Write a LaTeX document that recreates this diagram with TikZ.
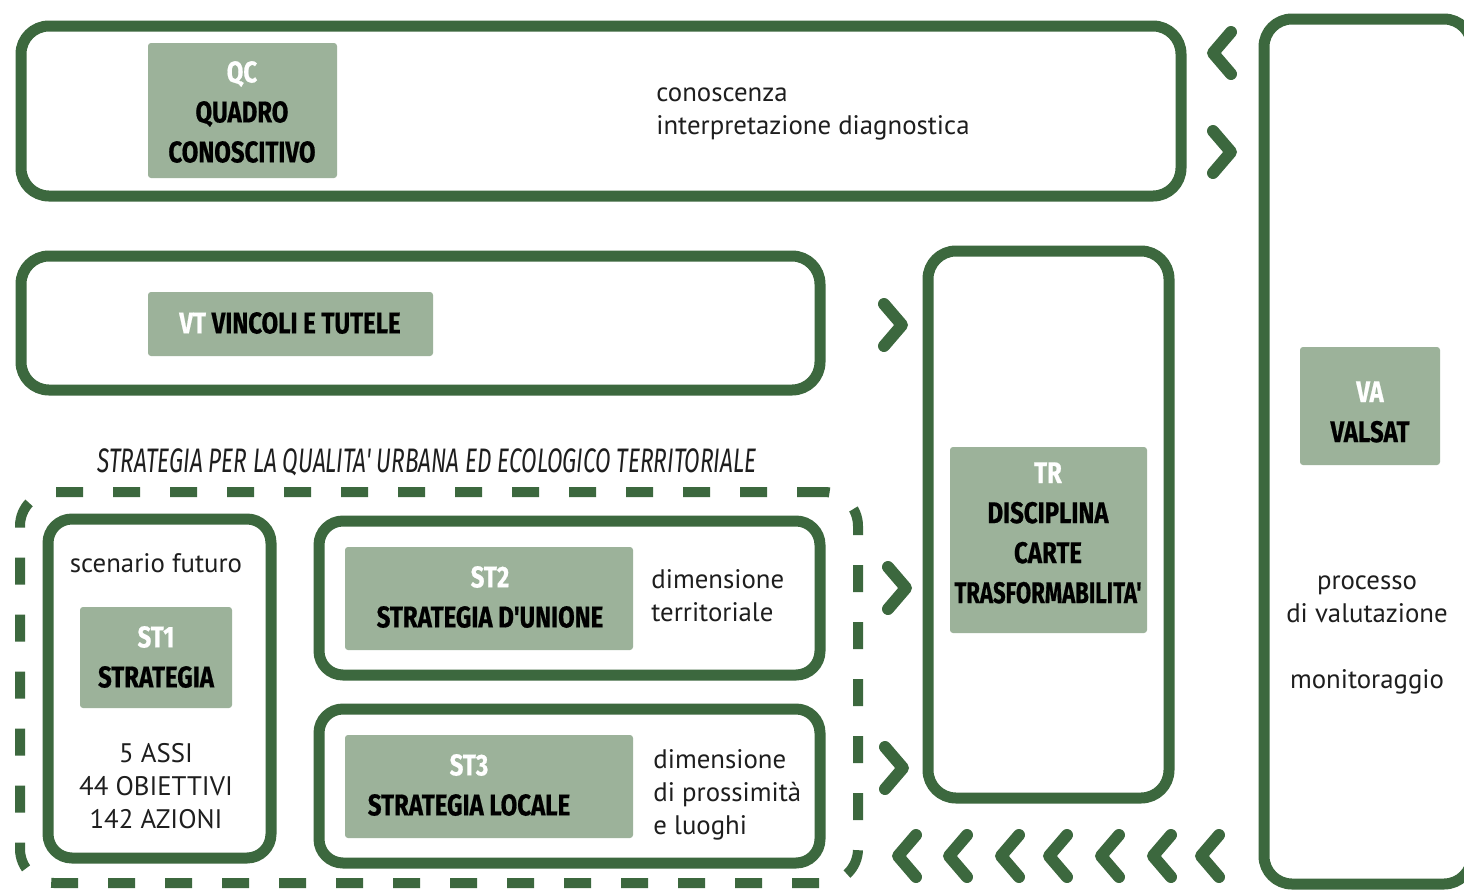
\documentclass[tikz,border=0pt]{standalone}
\usepackage{fontspec}
\setmainfont{PT Sans}
\newfontfamily\cond[FakeStretch=0.8,BoldFeatures={FakeBold=0.6}]{Fira Sans}
\newfontfamily\condit[FakeStretch=0.665]{Fira Sans}
\usetikzlibrary{fit}
\definecolor{dkg}{RGB}{60,104,62}
\definecolor{ltg}{RGB}{156,178,154}
\definecolor{txt}{RGB}{30,30,30}
\tikzset{
 gbox/.style={draw=dkg,line width=5.5pt,rounded corners=14pt,inner sep=0pt},
 dbox/.style={draw=dkg,line width=5pt,rounded corners=17pt,inner sep=0pt,dash pattern=on 13.5pt off 15pt},
 lab/.style={fill=ltg,inner sep=0pt,rounded corners=1.5pt},
 hd/.style={font=\cond\bfseries\fontsize{15}{20}\selectfont,text=black,align=center,inner sep=0pt},
 body/.style={font=\fontsize{13.4}{16.5}\selectfont,text=txt,inner sep=0pt},
 chev/.style={draw=dkg,line width=6pt,line cap=round,line join=round},
 chl/.pic={\draw[chev] (9,-21) -- (-9,0) -- (9,21);},
 chr/.pic={\draw[chev] (-9,-21) -- (9,0) -- (-9,21);}
}
\begin{document}
\begin{tikzpicture}[x=0.5pt,y=-0.5pt]
\useasboundingbox (0,0) rectangle (1464,890);
\clip (0,0) rectangle (1464,890);
\fill[white] (0,0) rectangle (1464,890);
% QC
\node[gbox,fit={(21,26)(1181,196)}] (qc) {};
\node[lab,fit={(148,43)(337,178)}] (qcl) {};
\node[hd] (qct) at (242,112) {\textcolor{white}{QC}\\QUADRO\\CONOSCITIVO};
\node[body,anchor=west,align=left] (qcd) at (656,114) {conoscenza\\interpretazione diagnostica};
% VA
\node[gbox,fit={(1264,19)(1472,884)}] (va) {};
\node[lab,fit={(1300,347)(1440,465)}] (val) {};
\node[hd] (vat) at (1370,412) {\textcolor{white}{VA}\\VALSAT};
\node[body,align=center] (vad) at (1367,635) {processo\\di valutazione\\[16.5pt]monitoraggio};
% VT
\node[gbox,fit={(21,256)(820,390)}] (vt) {};
\node[lab,fit={(148,292)(433,356)}] (vtl) {};
\node[hd] (vtt) at (290,323) {\textcolor{white}{VT} VINCOLI E TUTELE};
% TR
\node[gbox,fit={(928,251)(1169,798)}] (tr) {};
\node[lab,fit={(950,447)(1147,633)}] (trl) {};
\node[hd] (trt) at (1048,533) {\textcolor{white}{TR}\\DISCIPLINA\\CARTE\\\scalebox{0.92}[1]{TRASFORMABILITA'}};
% heading
\node[font=\condit\itshape\fontsize{17}{20}\selectfont,text=txt,inner sep=0pt] (hdg) at (427,462) {STRATEGIA PER LA QUALITA' URBANA ED ECOLOGICO TERRITORIALE};
% dashed group
\node[dbox,fit={(20,492)(858,883)}] (sq) {};
% ST1
\node[gbox,rounded corners=12pt,fit={(48,519)(271,858)}] (st1) {};
\node[body] (st1a) at (156,563) {scenario futuro};
\node[lab,fit={(80,607)(232,708)}] (st1l) {};
\node[hd] (st1t) at (156,657) {\textcolor{white}{ST1}\\STRATEGIA};
\node[body,align=center] (st1b) at (156,786) {5 ASSI\\44 OBIETTIVI\\142 AZIONI};
% ST2
\node[gbox,rounded corners=12pt,fit={(319,521)(820,675)}] (st2) {};
\node[lab,fit={(345,547)(633,650)}] (st2l) {};
\node[hd] (st2t) at (490,597) {\textcolor{white}{ST2}\\STRATEGIA D'UNIONE};
\node[body,anchor=west,align=left] (st2d) at (651,596) {dimensione\\territoriale};
% ST3
\node[gbox,rounded corners=12pt,fit={(319,709)(820,863)}] (st3) {};
\node[lab,fit={(345,735)(633,838)}] (st3l) {};
\node[hd] (st3t) at (469,785) {\textcolor{white}{ST3}\\STRATEGIA LOCALE};
\node[body,anchor=west,align=left] (st3d) at (653,795) {dimensione\\di prossimità\\e luoghi};
% chevrons
\pic at (1222,53) {chl};
\pic at (1222,152) {chr};
\pic at (893,325) {chr};
\pic at (897,588) {chr};
\pic at (894,768) {chr};
\foreach \x in {907,958,1010,1058,1110,1162,1210} \pic at (\x,856) {chl};
\end{tikzpicture}
\end{document}
